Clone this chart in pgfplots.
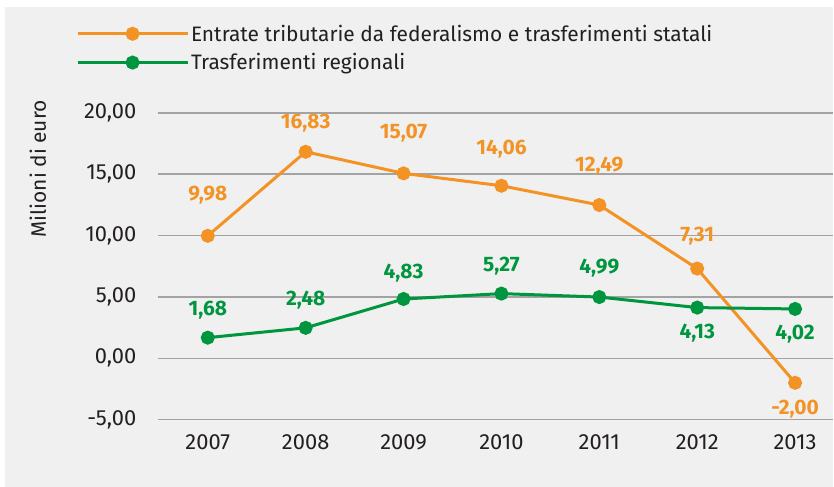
\documentclass[border=0pt]{standalone}
\usepackage{pgfplots}
\pgfplotsset{compat=1.18}
\usepackage{fontspec}
\setmainfont{Fira Sans}
\definecolor{bg}{HTML}{EFF0EF}
\definecolor{org}{HTML}{F39325}
\definecolor{grn}{HTML}{00953F}
\definecolor{gridc}{HTML}{A3A3A3}
\definecolor{txt}{HTML}{231F20}
\pgfplotstableread{
x y lab dy
2007 9.98 9,98 41
2008 16.83 16,83 29
2009 15.07 15,07 40
2010 14.06 14,06 37
2011 12.49 12,49 39
2012 7.31 7,31 32
2013 -2.00 -2,00 -26
}\orange
\pgfplotstableread{
x y lab dy
2007 1.68 1,68 28
2008 2.48 2,48 28
2009 4.83 4,83 26
2010 5.27 5,27 27
2011 4.99 4,99 29
2012 4.13 4,13 -26
2013 4.02 4,02 -25
}\green
\begin{document}
\begin{tikzpicture}[x=1bp,y=1bp]
\fill[white] (0,0) rectangle (834,487);
\fill[bg] (5,0) rectangle (834,480);
\node[rotate=90, font=\fontsize{21}{24}\selectfont, text=txt] at (38,318) {Milioni di euro};
\begin{axis}[
 at={(158bp,67bp)}, anchor=south west, scale only axis,
 width=676bp, height=307bp,
 xmin=2006.49, xmax=2013.39, ymin=-5, ymax=20,
 axis line style={draw=none},
 ymajorgrids, grid style={gridc, line width=1.5bp},
 major tick length=0pt,
 xtick={2007,2008,2009,2010,2011,2012,2013},
 xticklabels={2007,2008,2009,2010,2011,2012,2013},
 ytick={-5,0,5,10,15,20},
 yticklabels={{-5,00},{0,00},{5,00},{10,00},{15,00},{20,00}},
 tick label style={font=\fontsize{22}{24}\selectfont, text=txt},
 yticklabel style={anchor=east, xshift=-18bp},
 xticklabel style={anchor=center, yshift=-23bp},
 clip=false,
 legend style={at={(axis description cs:-0.1213,1.294)}, anchor=north west,
   draw=none, fill=none, inner sep=0pt, font=\fontsize{21}{23}\selectfont,
   text=txt, row sep=7bp, /tikz/every even column/.append style={column sep=6bp}},
 legend cell align=left,
 legend image code/.code={\draw[mark repeat=2,mark phase=2,#1] plot coordinates {(0bp,0bp)(55bp,0bp)(110bp,0bp)};},
 point meta=explicit symbolic,
 visualization depends on={\thisrow{dy} \as \dy},
 nodes near coords,
 every node near coord/.append style={anchor=center, yshift={\dy*1bp}, font=\fontsize{21}{23}\selectfont\bfseries},
]
\addplot[org, line width=3bp, mark=*, mark size=5.5bp, mark options={solid, fill=org, draw=org}, nodes near coords style={text=org}] table[x=x,y=y,meta=lab] {\orange};
\addlegendentry{Entrate tributarie da federalismo e trasferimenti statali}
\addplot[grn, line width=3bp, mark=*, mark size=5.5bp, mark options={solid, fill=grn, draw=grn}, nodes near coords style={text=grn}] table[x=x,y=y,meta=lab] {\green};
\addlegendentry{Trasferimenti regionali}
\end{axis}
\end{tikzpicture}
\end{document}
